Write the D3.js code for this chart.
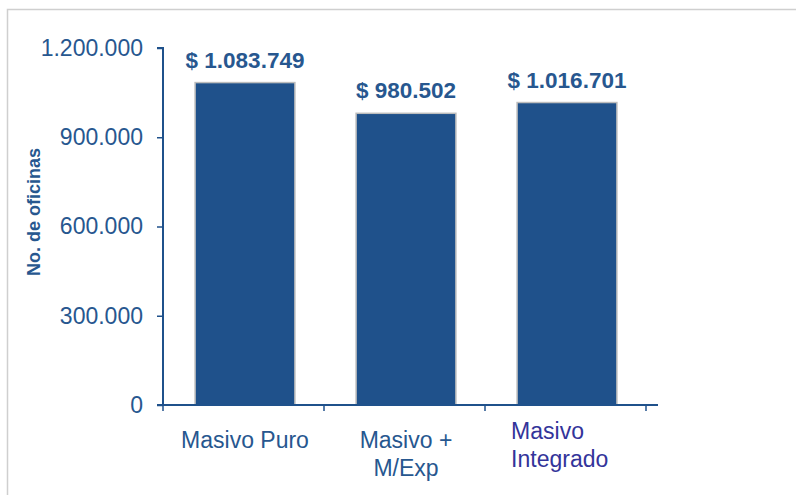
<!DOCTYPE html>
<html><head><meta charset="utf-8">
<script src="https://cdn.jsdelivr.net/npm/d3@7"></script>
<style>body{margin:0;background:#fff;}svg{display:block;font-family:"Liberation Sans",Arial,sans-serif;}</style>
</head><body>
<svg id="c" width="796" height="495"></svg>
<script>
const categories = ["Masivo Puro", "Masivo + M/Exp", "Masivo Integrado"];
const categoryLines = [["Masivo Puro"], ["Masivo +", "M/Exp"], ["Masivo", "Integrado"]];
const values = [1083749, 980502, 1016701];
const valueLabels = ["$ 1.083.749", "$ 980.502", "$ 1.016.701"];
const yTicks = [0, 300000, 600000, 900000, 1200000];
const yTickLabels = ["0", "300.000", "600.000", "900.000", "1.200.000"];

(function () {
const svg = d3.select("#c");
const blue = "#1f518b";
const textBlue = "#27578f";
const pl = 163, pr = 646, pt = 48, pb = 405;

svg.append("rect").attr("x", 7.5).attr("y", 9.5).attr("width", 800).attr("height", 500)
  .attr("fill", "none").attr("stroke", "#cfcfcf").attr("stroke-width", 1.5);

const x = d3.scaleBand().domain(categories).range([pl + 1.5, pr + 1.5]).paddingInner(0.38).paddingOuter(0.19);
const y = d3.scaleLinear().domain([0, 1200000]).range([pb, pt]);

svg.selectAll("rect.bar").data(values).join("rect").attr("class", "bar")
  .attr("x", (d, i) => x(categories[i]))
  .attr("y", d => y(d))
  .attr("width", x.bandwidth())
  .attr("height", d => pb - y(d))
  .attr("fill", blue).attr("stroke", "#bdbdbd").attr("stroke-width", 1.5);

const yAxis = d3.axisLeft(y).tickValues(yTicks).tickFormat((d, i) => yTickLabels[i]).tickSize(6).tickPadding(14);
const gy = svg.append("g").attr("transform", `translate(${pl},0)`).call(yAxis);
gy.select(".domain").attr("stroke", blue).attr("stroke-width", 2).attr("d", `M-6,${pt}H0V${pb}`);
gy.selectAll(".tick line").attr("stroke", blue).attr("stroke-width", 1.5);
gy.selectAll(".tick text").attr("fill", textBlue).attr("font-size", 23).attr("font-family", "Liberation Sans, Arial, sans-serif");

const gx = svg.append("g");
gx.append("line").attr("x1", pl - 6).attr("x2", pr + 12).attr("y1", pb).attr("y2", pb)
  .attr("stroke", blue).attr("stroke-width", 2);
const tickXs = [0, 1, 2, 3].map(i => pl + i * (pr - pl) / 3);
gx.selectAll("line.t").data(tickXs).join("line").attr("class", "t")
  .attr("x1", d => d).attr("x2", d => d).attr("y1", pb).attr("y2", pb + 6)
  .attr("stroke", blue).attr("stroke-width", 1.5);

categoryLines.forEach((lines, i) => {
  const cx = x(categories[i]) + x.bandwidth() / 2;
  if (i === 2) {
    const lx = x(categories[i]) - 6;
    const t = svg.append("text").attr("x", lx).attr("y", 439)
      .attr("fill", "#33349a").attr("font-size", 23);
    lines.forEach((l, j) => t.append("tspan").attr("x", lx).attr("dy", j ? 28 : 0).text(l));
  } else {
    const t = svg.append("text").attr("x", cx).attr("y", 448).attr("text-anchor", "middle")
      .attr("fill", textBlue).attr("font-size", 23);
    lines.forEach((l, j) => t.append("tspan").attr("x", cx).attr("dy", j ? 28 : 0).text(l));
  }
});

svg.selectAll("text.val").data(values).join("text").attr("class", "val")
  .attr("x", (d, i) => x(categories[i]) + x.bandwidth() / 2)
  .attr("y", d => y(d) - 15)
  .attr("text-anchor", "middle").attr("font-weight", "bold").attr("font-size", 22.5)
  .attr("fill", textBlue).text((d, i) => valueLabels[i]);

svg.append("text").attr("transform", `translate(40,212) rotate(-90)`)
  .attr("text-anchor", "middle").attr("font-weight", "bold").attr("font-size", 18)
  .attr("fill", textBlue).text("No. de oficinas");
})();
</script>
</body></html>
